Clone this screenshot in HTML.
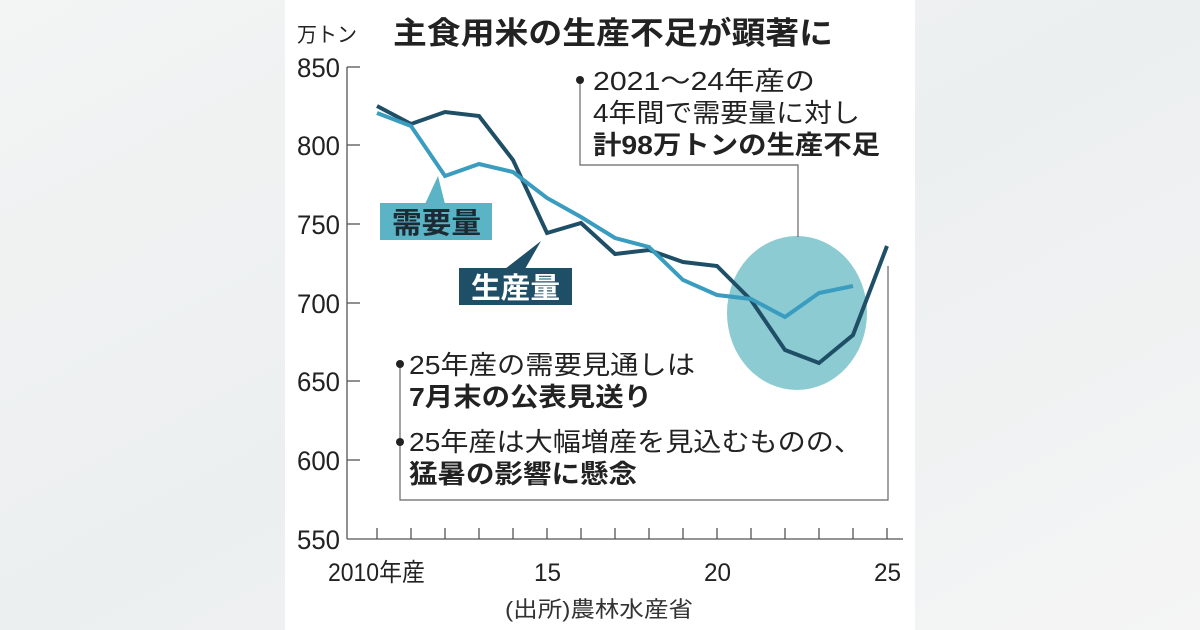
<!DOCTYPE html>
<html><head><meta charset="utf-8"><style>
html,body{margin:0;padding:0;width:1200px;height:630px;overflow:hidden;background:#eff1f2;}
svg{display:block}
text{font-family:"Liberation Sans","Noto Sans CJK JP",sans-serif;}
</style></head><body>
<svg width="1200" height="630" viewBox="0 0 1200 630">
<defs>
<linearGradient id="bg" x1="0" x2="1" y1="0" y2="1"><stop offset="0" stop-color="#f3f4f4"/><stop offset="0.5" stop-color="#eceff0"/><stop offset="1" stop-color="#f5f5f5"/></linearGradient>
</defs>
<rect width="1200" height="630" fill="url(#bg)"/>
<rect x="285" y="0" width="630" height="630" fill="#fff"/>
<text x="297" y="42" font-size="21" fill="#222" textLength="60" lengthAdjust="spacingAndGlyphs">万トン</text>
<text x="393" y="44" font-size="31" font-weight="bold" fill="#222" textLength="440" lengthAdjust="spacingAndGlyphs">主食用米の生産不足が顕著に</text>
<g stroke="#555" stroke-width="1.3" fill="none">
<line x1="347" y1="67" x2="347" y2="539"/>
<line x1="347" y1="539" x2="903" y2="539"/>
<line x1="347" y1="67" x2="360" y2="67"/><line x1="347" y1="145" x2="360" y2="145"/><line x1="347" y1="224" x2="360" y2="224"/><line x1="347" y1="303" x2="360" y2="303"/><line x1="347" y1="381" x2="360" y2="381"/><line x1="347" y1="460" x2="360" y2="460"/>
</g>
<g stroke="#555" stroke-width="1.3">
<line x1="377" y1="528" x2="377" y2="539"/><line x1="411" y1="528" x2="411" y2="539"/><line x1="445" y1="528" x2="445" y2="539"/><line x1="479" y1="528" x2="479" y2="539"/><line x1="513" y1="528" x2="513" y2="539"/><line x1="547" y1="528" x2="547" y2="539"/><line x1="581" y1="528" x2="581" y2="539"/><line x1="615" y1="528" x2="615" y2="539"/><line x1="649" y1="528" x2="649" y2="539"/><line x1="683" y1="528" x2="683" y2="539"/><line x1="717" y1="528" x2="717" y2="539"/><line x1="751" y1="528" x2="751" y2="539"/><line x1="785" y1="528" x2="785" y2="539"/><line x1="819" y1="528" x2="819" y2="539"/><line x1="853" y1="528" x2="853" y2="539"/><line x1="887" y1="528" x2="887" y2="539"/>
</g>
<g font-size="27" fill="#222" text-anchor="end">
<text x="340" y="77" textLength="43" lengthAdjust="spacingAndGlyphs">850</text>
<text x="340" y="155" textLength="43" lengthAdjust="spacingAndGlyphs">800</text>
<text x="340" y="234" textLength="43" lengthAdjust="spacingAndGlyphs">750</text>
<text x="340" y="313" textLength="43" lengthAdjust="spacingAndGlyphs">700</text>
<text x="340" y="391" textLength="43" lengthAdjust="spacingAndGlyphs">650</text>
<text x="340" y="470" textLength="43" lengthAdjust="spacingAndGlyphs">600</text>
<text x="340" y="549" textLength="43" lengthAdjust="spacingAndGlyphs">550</text>
</g>
<g font-size="25" fill="#222">
<text x="328" y="581" textLength="97" lengthAdjust="spacingAndGlyphs">2010年産</text>
<text x="534" y="581" textLength="27" lengthAdjust="spacingAndGlyphs">15</text>
<text x="704" y="581" textLength="27" lengthAdjust="spacingAndGlyphs">20</text>
<text x="874" y="581" textLength="27" lengthAdjust="spacingAndGlyphs">25</text>
</g>
<text x="505" y="617" font-size="22" fill="#333" textLength="188" lengthAdjust="spacingAndGlyphs">(出所)農林水産省</text>
<ellipse cx="797" cy="313" rx="70" ry="77" fill="#8ccbd1"/>
<polyline points="580,80 580,165 798,165 798,237" fill="none" stroke="#666" stroke-width="1.2"/>
<circle cx="580" cy="80" r="4" fill="#222"/>
<polyline points="400,364 400,500 888,500 888,266" fill="none" stroke="#666" stroke-width="1.2"/>
<circle cx="400" cy="364" r="4" fill="#222"/>
<circle cx="400" cy="442" r="4" fill="#222"/>
<g font-size="26" fill="#222" lengthAdjust="spacingAndGlyphs">
<text x="593" y="90" textLength="222" lengthAdjust="spacingAndGlyphs">2021～24年産の</text>
<text x="593" y="122" textLength="267" lengthAdjust="spacingAndGlyphs">4年間で需要量に対し</text>
<text x="593" y="154" font-weight="bold" textLength="287" lengthAdjust="spacingAndGlyphs">計98万トンの生産不足</text>
<text x="409" y="374" textLength="286" lengthAdjust="spacingAndGlyphs">25年産の需要見通しは</text>
<text x="409" y="406" font-weight="bold" textLength="243" lengthAdjust="spacingAndGlyphs">7月末の公表見送り</text>
<text x="409" y="451" textLength="453" lengthAdjust="spacingAndGlyphs">25年産は大幅増産を見込むものの、</text>
<text x="409" y="483" font-weight="bold" textLength="228" lengthAdjust="spacingAndGlyphs">猛暑の影響に懸念</text>
</g>
<polyline points="377,106 411,124 445,112 479,116 513,160 547,233 581,223 615,254 649,250 683,262 717,266 751,300 785,350 819,363 853,335 887,246" fill="none" stroke="#1f4f66" stroke-width="4"/>
<polyline points="377,113 411,126 445,176 479,164 513,172 547,198 581,217 615,238 649,247 683,280 717,295 751,299 785,317 819,293 853,286" fill="none" stroke="#3a9dc0" stroke-width="4"/>
<polygon points="425,204 438,176 445,204" fill="#5bb3c6"/>
<rect x="380" y="203" width="112" height="37" fill="#5bb3c6"/>
<text x="392" y="233" font-size="29" font-weight="bold" fill="#1b2a33" textLength="89" lengthAdjust="spacingAndGlyphs">需要量</text>
<polygon points="505,269 541,241 525,269" fill="#1f4f66"/>
<rect x="459" y="268" width="113" height="37" fill="#1f4f66"/>
<text x="471" y="298" font-size="29" font-weight="bold" fill="#fff" textLength="89" lengthAdjust="spacingAndGlyphs">生産量</text>
</svg>
</body></html>
